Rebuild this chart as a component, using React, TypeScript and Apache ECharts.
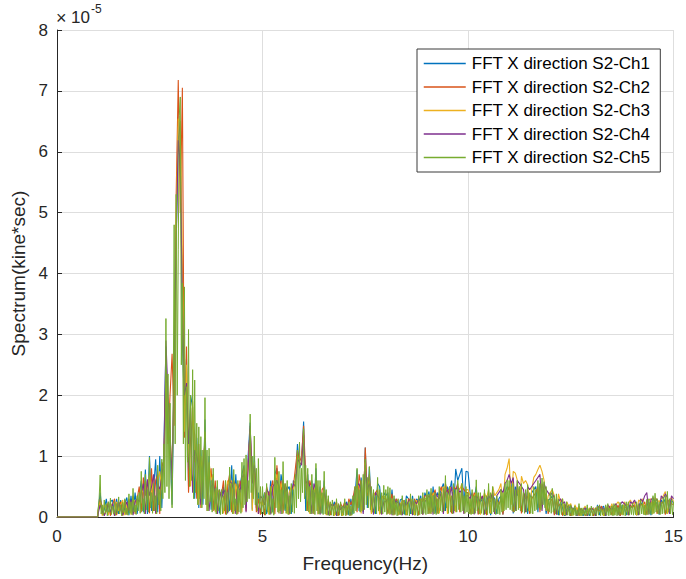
import React, { useEffect, useRef } from "react";
import * as echarts from "echarts";

const seriesNames = [
  "FFT X direction S2-Ch1",
  "FFT X direction S2-Ch2",
  "FFT X direction S2-Ch3",
  "FFT X direction S2-Ch4",
  "FFT X direction S2-Ch5",
];
const seriesColors = ["#0072BD", "#D95319", "#EDB120", "#7E2F8E", "#77AC30"];

// spectrum bins (Hz): first bin and bin step; the signal is zero below the first bin
const freqStart = 1.0;
const freqStep = 0.05; // Ch1-Ch4 as read
const freqStepCh5 = 0.025; // Ch5 read at finer resolution
const zeroBandFrom = 0;
const zeroBandTo = 0.99;

// values in units of 1e-5 kine*sec, one per bin from 1.00 Hz to 15.00 Hz
const ch1 = [
  0.10,0.40,0.05,0.12,0.30,0.03,0.25,0.28,0.02,0.30,0.05,0.28,0.04,0.22,0.32,0.03,0.35,0.06,0.40,0.05,
  0.35,0.60,0.08,0.78,0.05,1.00,0.10,0.45,0.95,0.08,1.00,0.15,1.10,2.80,1.50,1.20,0.20,2.40,4.60,6.20,
  6.50,2.90,1.80,2.60,0.50,2.00,1.80,0.30,1.30,0.15,1.10,0.20,1.60,0.10,1.00,0.12,0.70,0.10,0.50,0.06,
  0.30,0.50,0.08,0.55,0.10,0.85,0.06,0.70,0.10,0.50,0.70,0.85,0.15,1.00,1.55,0.12,1.00,0.15,0.40,0.05,
  0.25,0.40,0.05,0.20,0.60,0.08,0.70,0.80,0.06,0.70,0.50,0.10,0.45,0.50,0.05,0.60,0.55,1.20,0.80,0.90,
  1.57,0.10,0.70,0.08,0.60,0.10,0.80,0.05,0.50,0.06,0.60,0.05,0.25,0.04,0.15,0.25,0.03,0.15,0.18,0.04,
  0.20,0.25,0.03,0.30,0.05,0.35,0.78,0.10,0.65,0.08,1.14,0.15,0.82,0.08,0.40,0.05,0.55,0.50,0.06,0.40,
  0.35,0.40,0.04,0.45,0.05,0.30,0.03,0.28,0.30,0.04,0.35,0.30,0.05,0.35,0.03,0.30,0.25,0.35,0.05,0.40,
  0.30,0.42,0.05,0.50,0.06,0.40,0.35,0.45,0.55,0.10,0.50,0.40,0.60,0.12,0.79,0.60,0.70,0.80,0.15,0.75,
  0.74,0.40,0.06,0.30,0.50,0.05,0.30,0.25,0.35,0.04,0.40,0.03,0.35,0.30,0.05,0.30,0.35,0.04,0.40,0.50,
  0.45,0.55,0.06,0.50,0.35,0.50,0.08,0.30,0.40,0.05,0.30,0.40,0.45,0.50,0.08,0.55,0.45,0.35,0.05,0.28,
  0.30,0.35,0.04,0.30,0.03,0.25,0.15,0.02,0.12,0.18,0.02,0.15,0.12,0.02,0.15,0.08,0.02,0.10,0.15,0.02,
  0.10,0.15,0.02,0.20,0.03,0.15,0.18,0.02,0.15,0.12,0.20,0.03,0.15,0.18,0.02,0.20,0.15,0.03,0.20,0.15,
  0.18,0.20,0.03,0.22,0.20,0.25,0.04,0.18,0.25,0.03,0.30,0.25,0.22,0.04,0.28,0.22,0.30,0.05,0.20,0.30,0.22,
];
const ch2 = [
  0.08,0.30,0.15,0.03,0.10,0.25,0.02,0.20,0.30,0.03,0.20,0.25,0.02,0.28,0.04,0.30,0.12,0.35,0.05,0.30,
  0.50,0.08,0.65,0.35,0.60,0.06,0.80,0.10,0.60,0.70,0.05,0.90,0.80,2.40,1.20,2.00,2.68,1.50,5.31,7.18,
  5.00,7.05,1.30,2.80,0.40,1.30,1.60,1.35,0.30,1.20,0.15,0.90,1.20,0.20,0.60,0.80,0.10,0.60,0.05,0.40,
  0.35,0.60,0.04,0.50,0.70,0.08,0.60,0.50,0.05,0.60,0.45,0.80,0.10,0.90,1.45,0.60,0.80,0.08,0.30,0.04,
  0.30,0.03,0.50,0.35,0.45,0.60,0.05,0.85,0.40,0.60,0.06,0.55,0.40,0.04,0.45,0.50,0.80,1.10,0.90,1.00,
  1.50,0.70,0.10,0.60,0.45,0.05,0.60,0.40,0.06,0.45,0.50,0.04,0.30,0.03,0.20,0.18,0.25,0.02,0.22,0.15,
  0.25,0.03,0.30,0.20,0.30,0.50,0.08,0.70,0.50,0.10,1.14,0.35,0.70,0.06,0.35,0.40,0.45,0.05,0.35,0.30,
  0.30,0.05,0.25,0.38,0.03,0.30,0.25,0.04,0.28,0.25,0.03,0.30,0.28,0.04,0.30,0.20,0.03,0.30,0.25,0.35,
  0.35,0.05,0.40,0.35,0.45,0.06,0.40,0.50,0.08,0.55,0.40,0.45,0.06,0.50,0.45,0.55,0.08,0.50,0.45,0.40,
  0.40,0.05,0.25,0.40,0.30,0.04,0.35,0.30,0.25,0.03,0.30,0.25,0.40,0.05,0.30,0.20,0.30,0.04,0.35,0.40,
  0.50,0.40,0.08,0.35,0.40,0.45,0.06,0.40,0.30,0.35,0.05,0.30,0.35,0.40,0.50,0.08,0.55,0.40,0.35,0.05,
  0.25,0.30,0.03,0.25,0.18,0.22,0.02,0.18,0.20,0.12,0.02,0.10,0.12,0.15,0.02,0.14,0.10,0.02,0.08,0.12,
  0.12,0.02,0.15,0.12,0.10,0.18,0.02,0.15,0.10,0.18,0.03,0.15,0.10,0.20,0.02,0.12,0.18,0.15,0.03,0.20,
  0.15,0.20,0.03,0.15,0.22,0.18,0.25,0.04,0.20,0.25,0.22,0.28,0.05,0.20,0.22,0.25,0.04,0.28,0.25,0.22,0.20,
];
const ch3 = [
  0.10,0.25,0.02,0.20,0.15,0.03,0.22,0.18,0.02,0.25,0.10,0.20,0.28,0.03,0.20,0.25,0.04,0.30,0.25,0.20,
  0.30,0.45,0.40,0.06,0.45,0.70,0.35,0.65,0.05,0.60,0.75,0.45,1.00,2.20,1.80,1.30,0.80,2.30,4.90,6.54,
  6.50,4.20,1.40,2.50,1.30,0.50,1.90,0.90,1.20,0.20,1.00,0.60,1.40,0.10,0.90,0.60,0.70,0.08,0.45,0.40,
  0.40,0.06,0.30,0.60,0.50,0.60,0.05,0.55,0.35,0.50,0.08,0.75,0.55,0.85,1.40,0.10,0.90,0.40,0.05,0.25,
  0.20,0.35,0.40,0.04,0.50,0.35,0.60,0.70,0.06,0.55,0.45,0.50,0.05,0.40,0.50,0.45,0.60,1.00,0.85,0.90,
  1.30,0.60,0.55,0.05,0.50,0.40,0.55,0.04,0.40,0.30,0.45,0.03,0.25,0.18,0.22,0.02,0.20,0.15,0.18,0.02,
  0.20,0.15,0.22,0.02,0.25,0.40,0.55,0.50,0.06,0.50,0.90,0.40,0.60,0.05,0.40,0.35,0.40,0.04,0.30,0.35,
  0.30,0.25,0.04,0.30,0.25,0.20,0.03,0.22,0.25,0.20,0.04,0.22,0.30,0.25,0.03,0.28,0.20,0.30,0.04,0.30,
  0.32,0.35,0.05,0.40,0.35,0.30,0.06,0.40,0.50,0.45,0.05,0.50,0.45,0.40,0.08,0.50,0.45,0.55,0.06,0.45,
  0.45,0.35,0.05,0.35,0.40,0.30,0.04,0.25,0.40,0.30,0.45,0.06,0.50,0.35,0.40,0.45,0.55,0.10,0.70,0.80,
  0.96,0.20,0.75,0.72,0.60,0.15,0.67,0.55,0.60,0.53,0.10,0.45,0.65,0.70,0.78,0.85,0.75,0.60,0.10,0.35,
  0.40,0.45,0.35,0.05,0.38,0.25,0.30,0.03,0.25,0.18,0.22,0.02,0.20,0.12,0.18,0.02,0.12,0.18,0.02,0.15,
  0.12,0.15,0.02,0.18,0.15,0.12,0.02,0.15,0.18,0.12,0.22,0.03,0.20,0.25,0.18,0.03,0.25,0.18,0.22,0.28,
  0.20,0.25,0.03,0.28,0.25,0.30,0.04,0.25,0.28,0.30,0.05,0.32,0.28,0.25,0.30,0.35,0.42,0.05,0.28,0.32,0.25,
];
const ch4 = [
  0.05,0.20,0.10,0.02,0.12,0.20,0.08,0.22,0.02,0.10,0.25,0.12,0.03,0.15,0.25,0.10,0.28,0.03,0.25,0.30,
  0.25,0.40,0.55,0.05,0.62,0.35,0.50,0.70,0.06,0.55,0.45,0.65,0.95,2.90,2.00,1.40,0.60,2.60,4.50,6.19,
  5.80,3.50,2.00,2.20,1.20,1.80,0.40,1.10,1.00,0.80,0.20,0.65,1.30,0.45,0.10,0.50,0.55,0.40,0.05,0.45,
  0.30,0.40,0.45,0.06,0.60,0.55,0.45,0.05,0.55,0.40,0.65,0.70,0.08,0.80,1.50,0.55,0.85,0.45,0.05,0.35,
  0.30,0.20,0.45,0.40,0.04,0.50,0.55,0.60,0.50,0.05,0.60,0.40,0.50,0.06,0.40,0.55,0.50,0.95,0.90,0.85,
  1.35,0.55,0.60,0.50,0.05,0.55,0.45,0.35,0.04,0.25,0.40,0.25,0.03,0.22,0.18,0.20,0.02,0.20,0.12,0.18,
  0.15,0.22,0.18,0.03,0.20,0.45,0.50,0.55,0.40,0.05,0.85,0.45,0.55,0.30,0.04,0.40,0.35,0.30,0.04,0.25,
  0.25,0.30,0.28,0.03,0.30,0.22,0.25,0.18,0.03,0.25,0.20,0.25,0.30,0.03,0.25,0.22,0.30,0.25,0.04,0.25,
  0.30,0.35,0.30,0.04,0.40,0.35,0.30,0.40,0.05,0.40,0.45,0.35,0.50,0.06,0.45,0.50,0.40,0.45,0.05,0.35,
  0.35,0.30,0.40,0.04,0.35,0.30,0.25,0.35,0.04,0.25,0.35,0.30,0.40,0.05,0.35,0.40,0.45,0.40,0.55,0.60,
  0.70,0.55,0.65,0.10,0.60,0.55,0.50,0.45,0.08,0.50,0.45,0.50,0.55,0.60,0.65,0.70,0.10,0.55,0.45,0.40,
  0.35,0.40,0.30,0.04,0.25,0.30,0.22,0.25,0.03,0.15,0.18,0.12,0.15,0.02,0.14,0.12,0.10,0.15,0.02,0.10,
  0.15,0.12,0.02,0.15,0.18,0.12,0.15,0.02,0.20,0.15,0.12,0.18,0.22,0.03,0.20,0.25,0.22,0.18,0.03,0.25,
  0.22,0.28,0.20,0.03,0.30,0.25,0.35,0.40,0.04,0.28,0.32,0.25,0.30,0.05,0.35,0.30,0.38,0.32,0.05,0.35,0.30,
];
// Ch5: one value per 0.025 Hz bin from 1.000 Hz to 15.000 Hz (20 values per 0.5 Hz row)
const ch5 = [
  0.12,0.30,0.69,0.05,0.20,0.03,0.28,0.06,0.22,0.02,0.25,0.08,0.31,0.04,0.18,0.05,0.26,0.03,0.22,0.06,
  0.33,0.05,0.20,0.02,0.24,0.07,0.30,0.04,0.15,0.03,0.38,0.06,0.25,0.04,0.47,0.08,0.20,0.04,0.35,0.10,
  0.40,0.06,0.75,0.10,0.30,0.05,0.70,0.12,0.45,0.08,0.98,0.15,0.40,0.06,0.55,0.10,0.35,0.05,0.85,0.20,
  0.45,0.10,0.95,0.30,1.20,0.40,3.26,0.50,2.35,0.30,1.87,0.60,0.15,1.50,4.80,1.20,5.30,2.00,4.40,6.60,
  6.90,2.50,3.84,1.20,3.78,0.60,2.14,0.90,3.08,0.50,2.00,0.60,2.42,0.30,2.25,0.40,1.54,0.20,1.48,0.30,
  1.32,0.15,1.10,0.30,1.96,0.20,1.10,0.10,1.13,0.25,0.60,0.08,0.80,0.12,0.47,0.05,0.60,0.10,0.45,0.04,
  0.45,0.05,0.35,0.10,0.60,0.04,0.40,0.08,0.82,0.12,0.55,0.05,0.78,0.10,0.30,0.04,0.60,0.08,0.45,0.06,
  0.90,0.15,0.96,0.20,1.02,0.25,0.60,0.30,1.69,0.40,1.00,0.30,1.33,0.20,0.80,0.10,0.96,0.15,0.50,0.05,
  0.50,0.05,0.40,0.03,0.55,0.08,0.35,0.04,0.50,0.06,0.30,0.03,0.98,0.15,0.60,0.08,0.75,0.10,0.45,0.05,
  0.91,0.12,0.55,0.06,0.60,0.04,0.35,0.05,0.55,0.08,0.45,0.06,0.70,0.15,1.10,0.30,1.23,0.25,0.80,0.40,
  1.45,0.30,0.85,0.10,0.80,0.08,0.50,0.05,0.70,0.06,0.45,0.04,0.88,0.10,0.60,0.05,0.60,0.06,0.40,0.04,
  0.75,0.05,0.45,0.03,0.35,0.02,0.25,0.03,0.28,0.02,0.20,0.04,0.30,0.02,0.22,0.03,0.25,0.02,0.18,0.03,
  0.30,0.02,0.20,0.04,0.25,0.02,0.18,0.03,0.35,0.06,0.50,0.10,0.80,0.15,0.45,0.08,0.60,0.10,0.70,0.12,
  0.95,0.20,0.65,0.15,0.83,0.12,0.50,0.08,0.45,0.06,0.35,0.05,0.65,0.10,0.45,0.06,0.40,0.05,0.52,0.08,
  0.45,0.04,0.50,0.06,0.48,0.05,0.30,0.03,0.35,0.04,0.25,0.02,0.30,0.04,0.22,0.03,0.35,0.05,0.28,0.03,
  0.30,0.03,0.25,0.02,0.38,0.05,0.30,0.04,0.28,0.03,0.20,0.02,0.35,0.04,0.30,0.05,0.40,0.06,0.32,0.04,
  0.45,0.05,0.38,0.06,0.47,0.08,0.35,0.05,0.40,0.04,0.30,0.05,0.50,0.10,0.40,0.08,0.45,0.10,0.68,0.15,
  0.40,0.06,0.50,0.08,0.35,0.05,0.55,0.10,0.45,0.08,0.60,0.12,0.40,0.08,0.55,0.10,0.35,0.06,0.50,0.08,
  0.40,0.05,0.30,0.04,0.45,0.05,0.35,0.06,0.61,0.10,0.40,0.05,0.40,0.06,0.30,0.04,0.45,0.05,0.35,0.04,
  0.55,0.06,0.40,0.05,0.50,0.08,0.30,0.04,0.35,0.05,0.25,0.04,0.45,0.08,0.40,0.10,0.55,0.12,0.61,0.15,
  0.60,0.12,0.50,0.10,0.55,0.08,0.45,0.10,0.60,0.12,0.50,0.10,0.55,0.08,0.40,0.06,0.45,0.08,0.53,0.10,
  0.40,0.06,0.35,0.05,0.50,0.10,0.45,0.12,0.60,0.15,0.55,0.12,0.64,0.20,0.58,0.15,0.50,0.10,0.29,0.08,
  0.40,0.06,0.47,0.08,0.35,0.05,0.38,0.04,0.30,0.03,0.25,0.04,0.30,0.03,0.22,0.02,0.25,0.03,0.20,0.02,
  0.20,0.02,0.15,0.03,0.18,0.02,0.12,0.03,0.22,0.02,0.15,0.02,0.15,0.03,0.12,0.02,0.20,0.03,0.14,0.02,
  0.18,0.02,0.12,0.03,0.15,0.02,0.18,0.03,0.20,0.02,0.14,0.03,0.14,0.02,0.20,0.03,0.22,0.02,0.15,0.03,
  0.18,0.02,0.22,0.03,0.20,0.02,0.16,0.03,0.24,0.04,0.20,0.03,0.20,0.02,0.25,0.04,0.25,0.03,0.18,0.04,
  0.22,0.03,0.18,0.04,0.25,0.03,0.20,0.04,0.28,0.05,0.22,0.04,0.20,0.03,0.29,0.04,0.30,0.05,0.24,0.04,
  0.35,0.06,0.39,0.08,0.30,0.05,0.25,0.04,0.25,0.05,0.32,0.06,0.35,0.06,0.42,0.08,0.30,0.05,0.28,0.04,
  0.25,
];
const channels = [ch1, ch2, ch3, ch4, ch5];
const channelSteps = [freqStep, freqStep, freqStep, freqStep, freqStepCh5];

const xMin = 0, xMax = 15, xInterval = 5;
const yMin = 0, yMax = 8, yInterval = 1;
const yExponentTimes = "×";
const yExponentBase = "10";
const yExponent = "-5";

const FONT = "'Liberation Sans', Arial, Helvetica, sans-serif";
const TXT = "#262626";

function toPoints(vals: number[], step: number): number[][] {
  const pts: number[][] = [[zeroBandFrom, 0], [zeroBandTo, 0]];
  vals.forEach((v, i) => pts.push([+(freqStart + i * step).toFixed(3), v]));
  return pts;
}

export default function App() {
  const ref = useRef<HTMLDivElement>(null);
  useEffect(() => {
    if (!ref.current) return;
    const chart = echarts.init(ref.current, null, { renderer: "svg" });
    chart.setOption({
      animation: false,
      backgroundColor: "#ffffff",
      grid: { left: 57, right: 9, top: 30, bottom: 62, containLabel: false },
      legend: {
        data: seriesNames,
        orient: "vertical",
        left: 417,
        top: 49,
        itemWidth: 42,
        itemHeight: 14,
        itemGap: 6.5,
        padding: [6, 10, 6, 6],
        borderColor: "#3a3a3a",
        borderWidth: 1,
        borderRadius: 0,
        backgroundColor: "#ffffff",
        selectedMode: false,
        itemStyle: { opacity: 0 },
        lineStyle: { width: 1.5 },
        textStyle: { fontSize: 17, color: "#000", fontFamily: FONT, padding: [0, 0, 0, 1] },
      },
      xAxis: {
        type: "value",
        min: xMin,
        max: xMax,
        interval: xInterval,
        name: "Frequency(Hz)",
        nameLocation: "middle",
        nameGap: 37,
        nameTextStyle: { fontSize: 19, color: TXT, fontFamily: FONT },
        axisLine: { show: true, onZero: false, lineStyle: { color: TXT, width: 1 } },
        axisTick: { show: true, inside: true, length: 5, lineStyle: { color: TXT } },
        axisLabel: { fontSize: 17, color: TXT, fontFamily: FONT, margin: 11 },
        splitLine: { show: true, lineStyle: { color: "#dedede", width: 1 } },
      },
      yAxis: {
        type: "value",
        min: yMin,
        max: yMax,
        interval: yInterval,
        name: "Spectrum(kine*sec)",
        nameLocation: "middle",
        nameGap: 21,
        nameTextStyle: { fontSize: 19, color: TXT, fontFamily: FONT },
        axisLine: { show: true, lineStyle: { color: TXT, width: 1 } },
        axisTick: { show: true, inside: true, length: 5, lineStyle: { color: TXT } },
        axisLabel: { fontSize: 17, color: TXT, fontFamily: FONT, margin: 9 },
        splitLine: { show: true, lineStyle: { color: "#dedede", width: 1 } },
      },
      graphic: [
        {
          type: "text",
          left: 56,
          top: 9,
          style: { text: yExponentTimes, font: "18px 'Liberation Sans', Arial, sans-serif", fill: TXT },
        },
        {
          type: "text",
          left: 71,
          top: 9,
          style: { text: yExponentBase, font: "17px 'Liberation Sans', Arial, sans-serif", fill: TXT },
        },
        {
          type: "text",
          left: 91,
          top: 3,
          style: { text: yExponent, font: "12px 'Liberation Sans', Arial, sans-serif", fill: TXT },
        },
      ],
      series: channels.map((vals, k) => ({
        name: seriesNames[k],
        type: "line",
        data: toPoints(vals, channelSteps[k]),
        symbol: "none",
        showSymbol: false,
        silent: true,
        lineStyle: { width: k === 4 ? 1 : 1.1, color: seriesColors[k] },
        itemStyle: { color: seriesColors[k] },
        emphasis: { disabled: true },
      })),
    });
    return () => chart.dispose();
  }, []);
  return (
    <div
      ref={ref}
      style={{ position: "fixed", left: 0, top: 0, width: 686, height: 579, background: "#fff" }}
    />
  );
}
